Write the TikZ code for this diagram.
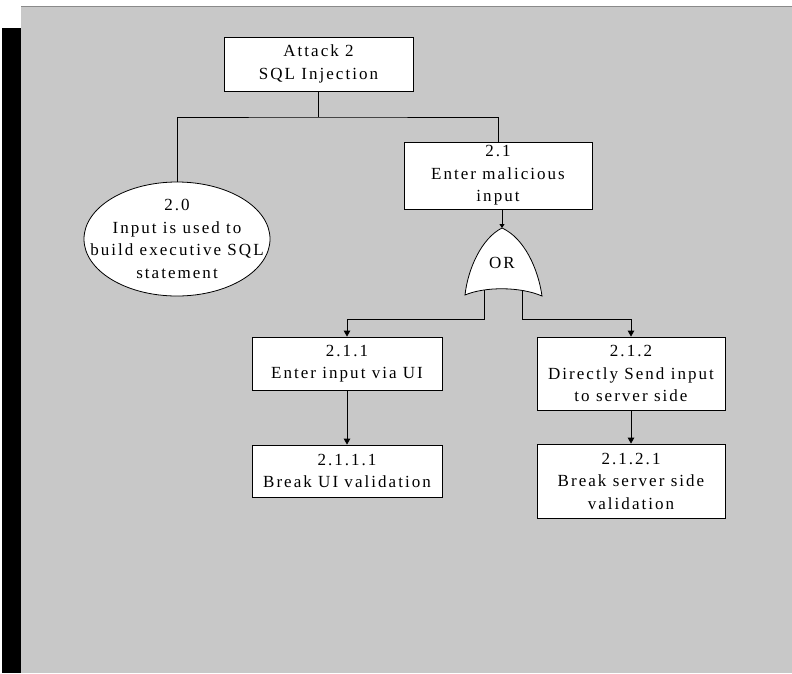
\documentclass[tikz,border=0pt]{standalone}
\usepackage{fontspec}
\setmainfont[LetterSpace=12]{Liberation Serif}
\usetikzlibrary{arrows.meta,positioning,calc,shapes.geometric}
\definecolor{Paper}{HTML}{C8C8C8}
\definecolor{Edge}{HTML}{8A8A8A}

\begin{document}
\begin{tikzpicture}[x=1pt,y=-1pt,>={Triangle[length=6pt,width=6.5pt]},line width=0.8pt,
    box/.style={draw,fill=white,align=center,inner sep=0pt,font=\fontsize{17}{22.5}\selectfont},
    oval/.style={box,ellipse,inner xsep=-22pt,inner ysep=-8pt}]
    \useasboundingbox (0,0) rectangle (792,673);
    \fill[white] (0,0) rectangle (792,673);
    \fill[Paper] (21,6) rectangle (792,673);
    \draw[Edge,line width=1pt] (21,6.5) -- (792,6.5);
    \fill[black] (2,28) rectangle (21,673);
    % nodes
    \node[box,minimum width=189pt,minimum height=54pt] (atk) at (318.5,64) {Attack 2\\SQL Injection};
    \node[oval,minimum width=186pt,minimum height=114pt] (n20) at (177,239) {2.0\\Input is used to\\build executive SQL\\statement};
    \node[box,minimum width=188pt,minimum height=67pt] (n21) at (498,175.5) {2.1\\Enter malicious\\input};
    \node[box,minimum width=190pt,minimum height=53pt] (n211) at (347,363.5) {2.1.1\\Enter input via UI};
    \node[box,minimum width=190pt,minimum height=52pt] (n2111) at (347,471) {2.1.1.1\\Break UI validation};
    \node[box,minimum width=188pt,minimum height=73pt] (n212) at (631,373.5) {2.1.2\\Directly Send input\\to server side};
    \node[box,minimum width=188pt,minimum height=74pt] (n2121) at (631,481) {2.1.2.1\\Break server side\\validation};
    % OR gate
    \coordinate (gtop) at (502,228);
    \coordinate (gl) at (484,290);
    \coordinate (gr) at (522,290);
    \draw[fill=white] (gtop) .. controls (482,238) and (468,268) .. (465,295) .. controls (485,286.5) and (520,286.5) .. (542,296) .. controls (538,268) and (524,238) .. (gtop) -- cycle;
    \node[font=\fontsize{17}{19}\selectfont] (gor) at (502,263) {OR};
    % connectors
    \coordinate (j) at (318.5,117);
    \draw (atk.south) -- (j);
    \draw (n20.north) |- (j) -| (n21.north);
    \draw[-{Triangle[length=4pt,width=5pt]}] (n21.south -| gtop) -- (gtop);
    \draw[->] (gl) -- ++(0,29) -| (n211.north);
    \draw[->] (gr) -- ++(0,29) -| (n212.north);
    \draw[->] (n211) -- (n2111);
    \draw[->] (n212) -- (n2121);
\end{tikzpicture}
\end{document}
